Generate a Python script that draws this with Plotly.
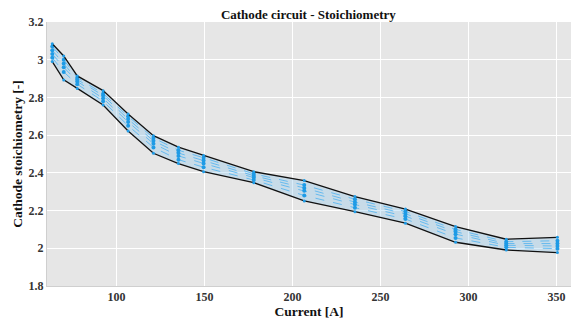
import plotly.graph_objects as go

current = [63.5, 70.0, 77.7, 92.4, 106.6, 121.0, 135.2, 149.5, 178.0, 206.7, 235.5, 264.2, 292.7, 321.5, 350.6]
upper = [3.085, 3.020, 2.914, 2.836, 2.712, 2.597, 2.536, 2.492, 2.406, 2.359, 2.274, 2.208, 2.115, 2.048, 2.058]
lower = [2.990, 2.893, 2.848, 2.760, 2.622, 2.504, 2.449, 2.406, 2.348, 2.251, 2.194, 2.133, 2.032, 1.991, 1.977]
s1 = [3.070, 3.000, 2.905, 2.820, 2.700, 2.585, 2.520, 2.480, 2.395, 2.335, 2.260, 2.195, 2.100, 2.035, 2.040]
s2 = [3.050, 2.980, 2.895, 2.810, 2.685, 2.570, 2.505, 2.465, 2.385, 2.320, 2.245, 2.183, 2.088, 2.025, 2.025]
s3 = [3.030, 2.960, 2.885, 2.795, 2.670, 2.555, 2.490, 2.450, 2.375, 2.305, 2.232, 2.170, 2.075, 2.016, 2.012]
s4 = [3.010, 2.935, 2.870, 2.780, 2.650, 2.535, 2.470, 2.430, 2.362, 2.280, 2.215, 2.155, 2.055, 2.005, 1.998]

blue = "rgb(30,155,230)"
fig = go.Figure()
fig.add_trace(go.Scatter(x=current, y=upper, mode="lines", line=dict(color="rgba(0,0,0,0)", width=0),
                         showlegend=False, hoverinfo="skip"))
fig.add_trace(go.Scatter(x=current, y=lower, mode="lines", fill="tonexty",
                         fillcolor="rgba(130,195,240,0.3)", line=dict(color="rgba(0,0,0,0)", width=0),
                         showlegend=False, hoverinfo="skip"))
for s in [s1, s2, s3, s4]:
    fig.add_trace(go.Scatter(x=current, y=s, mode="lines+markers",
                             line=dict(color="rgba(70,175,240,0.75)", width=1, dash="dash"),
                             marker=dict(color=blue, size=4),
                             showlegend=False))
for s in [upper, lower]:
    fig.add_trace(go.Scatter(x=current, y=s, mode="lines+markers",
                             line=dict(color="#111111", width=1.3),
                             marker=dict(color=blue, size=3),
                             showlegend=False))

font = "Liberation Serif"
fig.update_layout(
    width=571, height=322,
    margin=dict(l=47, r=0, t=22, b=36),
    paper_bgcolor="white", plot_bgcolor="#e6e6e6",
    title=dict(text="<b>Cathode circuit - Stoichiometry</b>", x=0.54, xanchor="center", y=0.955, yanchor="middle",
               font=dict(family=font, size=13, color="#111")),
    font=dict(family=font, color="#222"),
    showlegend=False,
)
fig.update_xaxes(range=[60.5, 358.3], tickvals=[100, 150, 200, 250, 300, 350],
                 ticktext=["<b>100</b>", "<b>150</b>", "<b>200</b>", "<b>250</b>", "<b>300</b>", "<b>350</b>"],
                 showgrid=True, gridcolor="white", gridwidth=1.2, zeroline=False,
                 showline=True, linecolor="#cfcfcf", ticks="",
                 tickfont=dict(family=font, size=12, color="#333"),
                 title=dict(text="<b>Current [A]</b>", font=dict(family=font, size=13.5, color="#111"), standoff=2))
fig.update_yaxes(range=[1.8, 3.2], tickvals=[1.8, 2, 2.2, 2.4, 2.6, 2.8, 3, 3.2],
                 ticktext=["<b>1.8</b>", "<b>2</b>", "<b>2.2</b>", "<b>2.4</b>", "<b>2.6</b>", "<b>2.8</b>", "<b>3</b>", "<b>3.2</b>"],
                 showgrid=True, gridcolor="white", gridwidth=1.2, zeroline=False,
                 showline=True, linecolor="#cfcfcf", ticks="",
                 tickfont=dict(family=font, size=12, color="#333"),
                 title=dict(text="<b>Cathode stoichiometry [-]</b>", font=dict(family=font, size=13.5, color="#111"), standoff=2))

fig.write_html("out.html")
